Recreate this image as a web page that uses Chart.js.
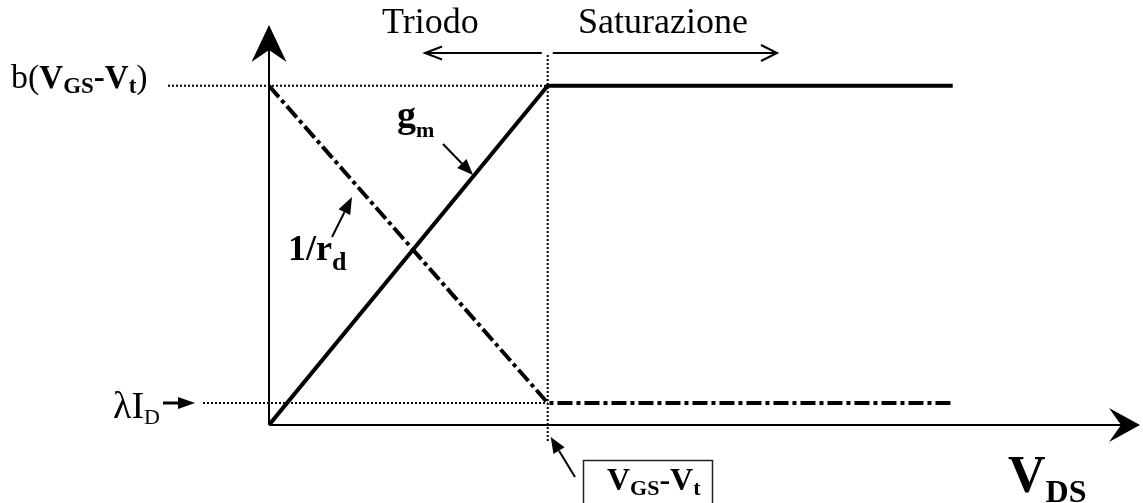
<!DOCTYPE html>
<html>
<head>
<meta charset="utf-8">
<script src="https://cdn.jsdelivr.net/npm/chart.js@4/dist/chart.umd.min.js"></script>
<style>
  body { margin: 0; background: #fff; }
  canvas { display: block; }
</style>
</head>
<body>
<canvas id="mosChart" width="1143" height="503"></canvas>
<script>
// V_DS break points (0, V_GS-V_t, end of drawn curve), in arbitrary units
const vds = [0, 3.2, 7.85];
// transconductance g_m: rises in triode, flat in saturation
const gmValues = [0, 8.48, 8.48];
// output conductance 1/r_d: falls in triode, lambda*I_D in saturation
const rdValues = [8.48, 0.55, 0.55];
const axisMax = 10;

const serif = '"Liberation Serif", "Times New Roman", serif';

function toPoints(xs, ys) {
    return xs.map((x, i) => ({ x: x, y: ys[i] }));
}

// draw pieces of text one after another (for subscripts)
function drawRuns(ctx, x, y, runs) {
    ctx.textBaseline = 'alphabetic';
    ctx.textAlign = 'left';
    runs.forEach(r => {
        ctx.font = r.font;
        ctx.fillText(r.t, x, y + (r.dy || 0));
        x += ctx.measureText(r.t).width + (r.gap || 0);
    });
}

// straight line with a filled triangular head at (x2,y2)
function filledArrow(ctx, x1, y1, x2, y2, len, half) {
    const a = Math.atan2(y2 - y1, x2 - x1);
    const bx = x2 - len * Math.cos(a), by = y2 - len * Math.sin(a);
    ctx.beginPath();
    ctx.moveTo(x1, y1);
    ctx.lineTo(bx, by);
    ctx.stroke();
    ctx.beginPath();
    ctx.moveTo(x2, y2);
    ctx.lineTo(bx + half * Math.sin(a), by - half * Math.cos(a));
    ctx.lineTo(bx - half * Math.sin(a), by + half * Math.cos(a));
    ctx.closePath();
    ctx.fill();
}

// line with an open chevron head at (x2,y2)
function openArrow(ctx, x1, y1, x2, y2, len, half) {
    const a = Math.atan2(y2 - y1, x2 - x1);
    const bx = x2 - len * Math.cos(a), by = y2 - len * Math.sin(a);
    ctx.beginPath();
    ctx.moveTo(x1, y1);
    ctx.lineTo(x2, y2);
    ctx.moveTo(bx + half * Math.sin(a), by - half * Math.cos(a));
    ctx.lineTo(x2, y2);
    ctx.lineTo(bx - half * Math.sin(a), by + half * Math.cos(a));
    ctx.stroke();
}

// axis line with a concave (stealth) head
function axisArrow(ctx, x1, y1, x2, y2, len, half, notch) {
    const a = Math.atan2(y2 - y1, x2 - x1);
    const c = Math.cos(a), s = Math.sin(a);
    ctx.beginPath();
    ctx.moveTo(x1, y1);
    ctx.lineTo(x2 - (len - notch) * c, y2 - (len - notch) * s);
    ctx.stroke();
    const bx = x2 - len * c, by = y2 - len * s;
    ctx.beginPath();
    ctx.moveTo(x2, y2);
    ctx.lineTo(bx + half * s, by - half * c);
    ctx.lineTo(x2 - (len - notch) * c, y2 - (len - notch) * s);
    ctx.lineTo(bx - half * s, by + half * c);
    ctx.closePath();
    ctx.fill();
}

const diagram = {
    id: 'diagram',
    beforeDatasetsDraw(chart) {
        const { ctx, scales: { x, y } } = chart;
        const X = v => x.getPixelForValue(v), Y = v => y.getPixelForValue(v);
        const x0 = X(0), y0 = Y(0), xk = X(vds[1]);
        ctx.save();
        ctx.strokeStyle = '#000';
        ctx.fillStyle = '#000';

        // dotted guides
        ctx.lineWidth = 2;
        ctx.setLineDash([2, 2]);
        ctx.beginPath();
        ctx.moveTo(168, Y(gmValues[1]));
        ctx.lineTo(xk, Y(gmValues[1]));
        ctx.moveTo(203, Y(rdValues[1]));
        ctx.lineTo(xk, Y(rdValues[1]));
        ctx.moveTo(xk, 55);
        ctx.lineTo(xk, y0 + 18);
        ctx.stroke();
        ctx.setLineDash([]);

        // axes
        ctx.lineWidth = 2;
        axisArrow(ctx, x0, y0, x0, Y(axisMax), 37, 17.5, 12);
        axisArrow(ctx, x0, y0, X(axisMax), y0, 31, 17, 12);
        ctx.restore();
    },
    afterDatasetsDraw(chart) {
        const { ctx, scales: { x, y } } = chart;
        const Y = v => y.getPixelForValue(v);
        const xk = x.getPixelForValue(vds[1]);
        ctx.save();
        ctx.strokeStyle = '#000';
        ctx.fillStyle = '#000';

        // region labels and arrows
        drawRuns(ctx, 382, 33, [{ t: 'Triodo', font: '36px ' + serif }]);
        drawRuns(ctx, 578, 33, [{ t: 'Saturazione', font: '36px ' + serif }]);
        ctx.lineWidth = 2;
        openArrow(ctx, xk - 6, 53, 425, 53, 17, 6.5);
        openArrow(ctx, xk + 5, 53, 777, 53, 16, 8);

        // y levels
        const bTop = Y(gmValues[1]) + 2;
        drawRuns(ctx, 11, bTop, [
            { t: 'b(', font: '34px ' + serif },
            { t: 'V', font: 'bold 33px ' + serif },
            { t: 'GS', font: 'bold 23px ' + serif, dy: 5 },
            { t: '-', font: 'bold 33px ' + serif },
            { t: 'V', font: 'bold 33px ' + serif },
            { t: 't', font: 'bold 23px ' + serif, dy: 5 },
            { t: ')', font: '34px ' + serif }
        ]);
        const lamY = Y(rdValues[1]);
        drawRuns(ctx, 113, lamY + 15, [
            { t: 'λI', font: '38px ' + serif },
            { t: 'D', font: '22px ' + serif, dy: 6 }
        ]);
        ctx.lineWidth = 3;
        filledArrow(ctx, 163, lamY, 195, lamY, 17, 6);

        // curve labels
        drawRuns(ctx, 397, 127, [
            { t: 'g', font: 'bold 38px ' + serif },
            { t: 'm', font: 'bold 22px ' + serif, dy: 10 }
        ]);
        ctx.lineWidth = 2;
        filledArrow(ctx, 443, 144, 473, 175, 16, 6.5);

        drawRuns(ctx, 288, 260, [
            { t: '1/r', font: 'bold 36px ' + serif },
            { t: 'd', font: 'bold 26px ' + serif, dy: 10 }
        ]);
        filledArrow(ctx, 332, 237, 352, 197, 17, 6.5);

        // V_GS - V_t box on the x axis
        ctx.lineWidth = 1.5;
        ctx.strokeStyle = '#222';
        ctx.strokeRect(583.5, 460.5, 129, 60);
        ctx.strokeStyle = '#000';
        ctx.lineWidth = 2;
        filledArrow(ctx, 575, 477, xk + 3, 437, 16, 6.5);
        drawRuns(ctx, 607, 490, [
            { t: 'V', font: 'bold 32px ' + serif },
            { t: 'GS', font: 'bold 22px ' + serif, dy: 5 },
            { t: '-', font: 'bold 32px ' + serif },
            { t: 'V', font: 'bold 32px ' + serif },
            { t: 't', font: 'bold 22px ' + serif, dy: 5 }
        ]);

        // x axis title
        drawRuns(ctx, 1008, 492, [
            { t: 'V', font: 'bold 52px ' + serif },
            { t: 'DS', font: 'bold 32px ' + serif, dy: 10 }
        ]);
        ctx.restore();
    }
};

const ctx = document.getElementById('mosChart').getContext('2d');
new Chart(ctx, {
    type: 'line',
    data: {
        datasets: [{
            label: 'gm',
            data: toPoints(vds, gmValues),
            borderColor: '#000',
            borderWidth: 4,
            pointRadius: 0,
            tension: 0,
            fill: false
        }, {
            label: '1/rd',
            data: toPoints(vds, rdValues),
            borderColor: '#000',
            borderWidth: 4,
            borderDash: [15, 4, 4, 4],
            pointRadius: 0,
            tension: 0,
            fill: false
        }]
    },
    options: {
        responsive: false,
        animation: false,
        layout: { padding: { left: 269, right: 3, top: 25, bottom: 78 } },
        plugins: {
            legend: { display: false },
            tooltip: { enabled: false }
        },
        scales: {
            x: { type: 'linear', min: 0, max: axisMax, display: false },
            y: { type: 'linear', min: 0, max: axisMax, display: false }
        }
    },
    plugins: [diagram]
});
</script>
</body>
</html>
